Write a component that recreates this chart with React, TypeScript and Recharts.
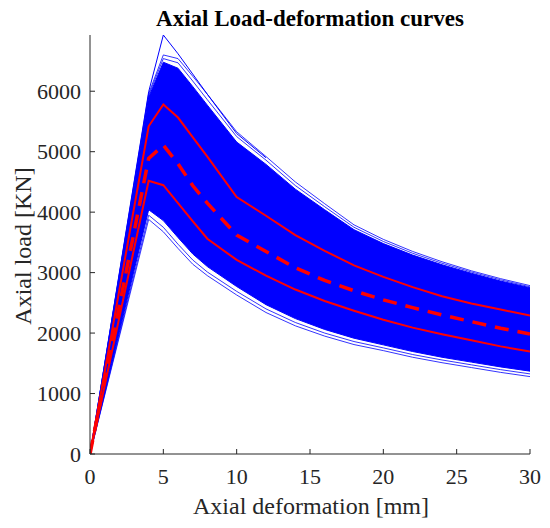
import { ComposedChart, Area, Line, XAxis, YAxis } from 'recharts';

// axial deformation [mm] where the curves were read
const deformation = [0, 4, 5, 6, 7, 8, 10, 12, 14, 16, 18, 20, 22, 24, 26, 28, 30];

// dense body of the blue simulated curves [KN]
const bodyHigh = [0, 5900, 6480, 6380, 6080, 5770, 5160, 4790, 4380, 4040, 3710, 3480, 3290, 3130, 2990, 2860, 2750];
const bodyLow = [0, 4040, 3860, 3580, 3310, 3100, 2770, 2470, 2240, 2060, 1915, 1805, 1695, 1600, 1520, 1440, 1370];

// separate curves on the edges of the bundle
const topEdgeA = [0, 5960, 6600, 6540, 6250, 5950, 5330, 4920, 4500, 4140, 3790, 3550, 3350, 3180, 3030, 2900, 2785];
const topEdgeB = [0, 5930, 6540, 6470, 6170, 5860, 5250, 4860, 4440, 4090, 3750, 3515, 3320, 3155, 3010, 2880, 2765];
const lowEdgeA = [0, 3880, 3675, 3400, 3140, 2950, 2630, 2340, 2120, 1950, 1810, 1710, 1600, 1510, 1430, 1350, 1280];
const lowEdgeB = [0, 3950, 3750, 3470, 3210, 3010, 2690, 2400, 2175, 2000, 1860, 1755, 1645, 1555, 1475, 1395, 1325];

// highest single curve (only where it stands out)
const peakCurve = [0, 5990, 6930, 6620, null, 5950, 5300, 4900, null, null, null, null, null, null, null, null, null];

// mean and mean +/- std
const meanPlus = [0, 5420, 5780, 5565, 5240, 4920, 4250, 3940, 3620, 3360, 3120, 2930, 2760, 2610, 2490, 2390, 2290];
const meanLoad = [0, 4888, 5107, 4800, 4440, 4150, 3620, 3350, 3080, 2870, 2700, 2550, 2420, 2300, 2190, 2080, 1985];
const meanMinus = [0, 4518, 4446, 4150, 3850, 3560, 3210, 2950, 2720, 2530, 2370, 2220, 2090, 1980, 1880, 1780, 1695];

const xTicks = [0, 5, 10, 15, 20, 25, 30];
const yTicks = [0, 1000, 2000, 3000, 4000, 5000, 6000];

const data = deformation.map((d, i) => ({
  d,
  band: [bodyLow[i], bodyHigh[i]],
  topA: topEdgeA[i],
  topB: topEdgeB[i],
  lowA: lowEdgeA[i],
  lowB: lowEdgeB[i],
  peak: peakCurve[i],
  plus: meanPlus[i],
  mean: meanLoad[i],
  minus: meanMinus[i],
}));

const FONT = '"Liberation Serif", "Times New Roman", serif';
const INK = '#262626';
const BLUE = '#0000ff';
const RED = '#ff0000';

const XTick = (props: any) => {
  const { x, y, payload } = props;
  return (
    <g>
      <line x1={x} y1={y} x2={x} y2={y - 5} stroke={INK} strokeWidth={1} />
      <text
        x={x}
        y={y + 30}
        textAnchor="middle"
        fontFamily="Liberation Serif"
        fontSize={22}
        style={{ fontFamily: FONT, fontSize: 22 }}
        fill={INK}
      >
        {payload.value}
      </text>
    </g>
  );
};

const YTick = (props: any) => {
  const { x, y, payload } = props;
  return (
    <g>
      <line x1={x} y1={y} x2={x + 5} y2={y} stroke={INK} strokeWidth={1} />
      <text
        x={x - 9}
        y={y}
        dy="0.35em"
        textAnchor="end"
        fontFamily="Liberation Serif"
        fontSize={22}
        style={{ fontFamily: FONT, fontSize: 22 }}
        fill={INK}
      >
        {payload.value}
      </text>
    </g>
  );
};

const edge = (key: string) => (
  <Line
    key={key}
    type="linear"
    dataKey={key}
    stroke={BLUE}
    strokeWidth={0.8}
    dot={false}
    isAnimationActive={false}
  />
);

export default function App() {
  return (
    <div style={{ position: 'absolute', left: 0, top: 0, width: 550, height: 528, background: '#fff' }}>
      <ComposedChart
        width={550}
        height={528}
        data={data}
        margin={{ top: 35, right: 20, left: 0, bottom: 44 }}
        style={{ fontFamily: FONT }}
      >
        <XAxis
          dataKey="d"
          type="number"
          domain={[0, 30]}
          ticks={xTicks}
          height={30}
          stroke={INK}
          tickLine={false}
          tickSize={0}
          tickMargin={0}
          tick={<XTick />}
          allowDataOverflow
        />
        <YAxis
          type="number"
          domain={[0, 6930]}
          ticks={yTicks}
          width={90}
          stroke={INK}
          tickLine={false}
          tickSize={0}
          tickMargin={0}
          tick={<YTick />}
          allowDataOverflow
        />
        <Area
          type="linear"
          dataKey="band"
          stroke={BLUE}
          strokeWidth={1}
          fill={BLUE}
          fillOpacity={1}
          isAnimationActive={false}
        />
        {edge('topA')}
        {edge('topB')}
        {edge('lowA')}
        {edge('lowB')}
        <Line
          type="linear"
          dataKey="peak"
          stroke={BLUE}
          strokeWidth={1}
          dot={false}
          connectNulls
          isAnimationActive={false}
        />
        <Line type="linear" dataKey="plus" stroke={RED} strokeWidth={2} dot={false} isAnimationActive={false} />
        <Line type="linear" dataKey="minus" stroke={RED} strokeWidth={2} dot={false} isAnimationActive={false} />
        <Line
          type="linear"
          dataKey="mean"
          stroke={RED}
          strokeWidth={3.5}
          strokeDasharray="14 9"
          dot={false}
          isAnimationActive={false}
        />
      </ComposedChart>
      <svg width={550} height={528} style={{ position: 'absolute', left: 0, top: 0, pointerEvents: 'none' }}>
        <text x={310} y={26} textAnchor="middle" style={{ fontFamily: FONT, fontSize: 23, fontWeight: 'bold' }} fill="#000">
          Axial Load-deformation curves
        </text>
        <text x={311} y={514} textAnchor="middle" style={{ fontFamily: FONT, fontSize: 24 }} fill={INK}>
          Axial deformation [mm]
        </text>
        <text
          x={31}
          y={246}
          textAnchor="middle"
          style={{ fontFamily: FONT, fontSize: 24 }}
          fill={INK}
          transform="rotate(-90, 31, 246)"
        >
          Axial load [KN]
        </text>
      </svg>
    </div>
  );
}
